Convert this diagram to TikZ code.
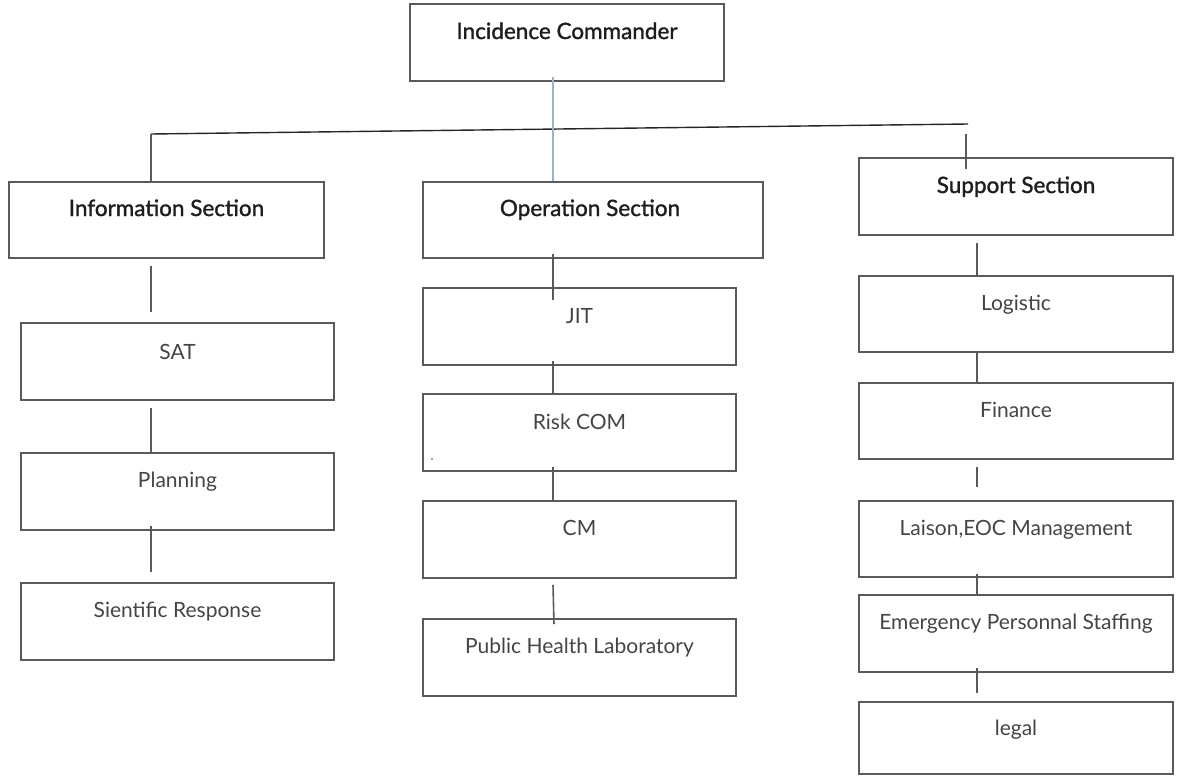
\documentclass[tikz,border=0pt]{standalone}
\usepackage{fontspec}
\setmainfont{Lato}
\newfontfamily\titlefont[FakeBold=1.4]{Lato}
\begin{document}
\begin{tikzpicture}[x=1pt,y=-1pt,
  box/.style={draw=boxgray,line width=1.8pt,rectangle,inner sep=0pt},
  title/.style={font=\titlefont\fontsize{22.5}{24}\selectfont,text=titlecol,anchor=base,inner sep=0pt},
  item/.style={font=\fontsize{21}{23}\selectfont,text=itemcol,anchor=base,inner sep=0pt},
  link/.style={draw=boxgray,line width=1.6pt},
  bus/.style={draw=black!85,line width=1.4pt},
  cmdlink/.style={draw=steel,line width=1.8pt}]
\definecolor{boxgray}{HTML}{5A5A5A}
\definecolor{titlecol}{HTML}{1E1E1E}
\definecolor{itemcol}{HTML}{444444}
\definecolor{steel}{HTML}{9DB4CE}
\useasboundingbox (0,0) rectangle (1181,776);

% top level
\node[box,minimum width=314pt,minimum height=77pt] (ic) at (567,42.5) {};
\node[title] (ict) at (567,39) {Incidence Commander};

% section heads
\node[box,minimum width=315pt,minimum height=76pt] (info) at (166.5,220) {};
\node[title] (infot) at (166.5,216) {Information Section};
\node[box,minimum width=340pt,minimum height=76pt] (oper) at (593,220) {};
\node[title] (opert) at (590,216) {Operation Section};
\node[box,minimum width=314pt,minimum height=77pt] (supp) at (1016,196.5) {};
\node[title] (suppt) at (1016,193) {Support Section};

% information column
\node[box,minimum width=313pt,minimum height=77pt] (sat) at (177.5,361.5) {};
\node[item] (satt) at (177.5,359) {SAT};
\node[box,minimum width=313pt,minimum height=77pt] (plan) at (177.5,491.5) {};
\node[item] (plant) at (177.5,487) {Planning};
\node[box,minimum width=313pt,minimum height=77pt] (sci) at (177.5,621.5) {};
\node[item] (scit) at (177.5,617) {Sientific Response};

% operation column
\node[box,minimum width=313pt,minimum height=77pt] (jit) at (579.5,326.5) {};
\node[item] (jitt) at (579.5,323) {JIT};
\node[box,minimum width=313pt,minimum height=77pt] (risk) at (579.5,432.5) {};
\node[item] (riskt) at (579.5,429) {Risk COM};
\fill[itemcol] (432,459) circle (0.9pt);
\node[box,minimum width=313pt,minimum height=77pt] (cm) at (579.5,539.5) {};
\node[item] (cmt) at (579.5,535) {CM};
\node[box,minimum width=313pt,minimum height=77pt] (phl) at (579.5,657.5) {};
\node[item] (phlt) at (579.5,653) {Public Health Laboratory};

% support column
\node[box,minimum width=314pt,minimum height=76pt] (log) at (1016,314) {};
\node[item] (logt) at (1016,310) {Logistic};
\node[box,minimum width=314pt,minimum height=76pt] (fin) at (1016,421) {};
\node[item] (fint) at (1016,417) {Finance};
\node[box,minimum width=314pt,minimum height=76pt] (lai) at (1016,539) {};
\node[item] (lait) at (1016,535) {Laison,EOC Management};
\node[box,minimum width=314pt,minimum height=77pt] (emg) at (1016,633.5) {};
\node[item] (emgt) at (1016,629) {Emergency Personnal Staffing};
\node[box,minimum width=314pt,minimum height=72pt] (legal) at (1016,738) {};
\node[item] (legalt) at (1016,735) {legal};

% spines
\coordinate (infox) at (151,0);
\coordinate (operx) at (553,0);
\coordinate (suppx) at (977,0);
\coordinate (busL) at (151,134);
\coordinate (busR) at (968,124);
\coordinate (suppdrop) at (966,134);

% command bus
\draw[bus] (busL) -- (busR);
\draw[link] (busL) -- ([yshift=-1pt]info.north -| infox) ++(0,-10);
\draw[link] (suppdrop) -- ([yshift=-12pt]supp.north -| suppdrop);
\draw[cmdlink] ([yshift=5pt]ic.south -| operx) -- (oper.north -| operx);

% information links
\draw[link] ([yshift=-7pt]info.south -| infox) -- ([yshift=10pt]sat.north -| infox);
\draw[link] ([yshift=-7pt]sat.south -| infox) -- (plan.north -| infox);
\draw[link] ([yshift=5pt]plan.south -| infox) -- ([yshift=10pt]sci.north -| infox);

% operation links
\draw[link] ([yshift=5pt]oper.south -| operx) -- ([yshift=-13pt]jit.north -| operx);
\draw[link] ([yshift=5pt]jit.south -| operx) -- (risk.north -| operx);
\draw[link] ([yshift=5pt]risk.south -| operx) -- (cm.north -| operx);
\draw[link] ([yshift=-6pt]cm.south -| operx) -- ([xshift=1pt,yshift=-6pt]phl.north -| operx);

% support links
\draw[link] ([yshift=-7pt]supp.south -| suppx) -- (log.north -| suppx);
\draw[link] (log.south -| suppx) -- (fin.north -| suppx);
\draw[link] ([yshift=-7pt]fin.south -| suppx) -- ([yshift=13pt]lai.north -| suppx);
\draw[link] ([yshift=4pt]lai.south -| suppx) -- (emg.north -| suppx);
\draw[link] ([yshift=5pt]emg.south -| suppx) -- ([yshift=8pt]legal.north -| suppx);
\end{tikzpicture}
\end{document}
